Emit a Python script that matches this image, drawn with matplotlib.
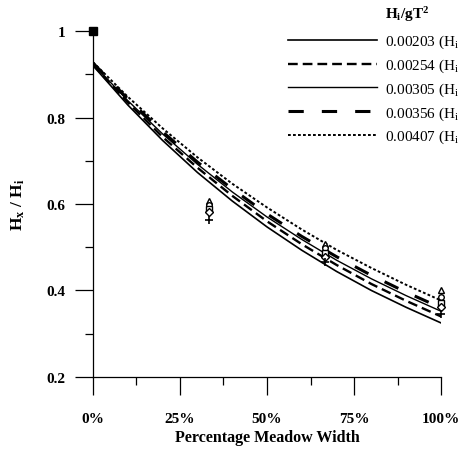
import matplotlib
matplotlib.use("Agg")
import matplotlib.pyplot as plt
from matplotlib.ticker import FixedLocator

plt.rcParams["font.family"] = ["Liberation Serif", "DejaVu Serif"]
plt.rcParams["mathtext.fontset"] = "custom"
plt.rcParams["mathtext.rm"] = "Liberation Serif"
plt.rcParams["mathtext.it"] = "Liberation Serif:italic"
plt.rcParams["mathtext.bf"] = "Liberation Serif:bold"
plt.rcParams["lines.scale_dashes"] = False

# Relative meadow position (fraction of meadow width)
width_frac = [0.0, 0.1, 0.2, 0.3, 0.4, 0.5, 0.6, 0.7, 0.8, 0.9, 1.0]

# Predicted wave-height decay for each incident steepness Hi/gT^2
steepness = ["0.00203", "0.00254", "0.00305", "0.00356", "0.00407"]
pred_00203 = [0.920, 0.829, 0.747, 0.673, 0.607, 0.547, 0.493, 0.444, 0.400, 0.361, 0.325]
pred_00254 = [0.922, 0.835, 0.755, 0.684, 0.619, 0.560, 0.507, 0.459, 0.415, 0.376, 0.340]
pred_00305 = [0.924, 0.839, 0.762, 0.692, 0.628, 0.570, 0.518, 0.470, 0.427, 0.388, 0.352]
pred_00356 = [0.926, 0.843, 0.767, 0.697, 0.635, 0.577, 0.525, 0.478, 0.435, 0.396, 0.360]
pred_00407 = [0.928, 0.848, 0.775, 0.708, 0.647, 0.592, 0.541, 0.494, 0.452, 0.413, 0.377]

# Measured wave heights at the gauges
gauge_x = [1 / 3, 2 / 3, 1.0]
meas_triangle = [0.607, 0.508, 0.400]
meas_circle = [0.598, 0.498, 0.385]
meas_square = [0.589, 0.487, 0.372]
meas_diamond = [0.581, 0.477, 0.361]
meas_plus = [0.563, 0.466, 0.345]
incident_x = [0.0]
incident_h = [1.0]

x_ticks = [0.0, 0.25, 0.5, 0.75, 1.0]
x_tick_labels = ["0%", "25%", "50%", "75%", "100%"]
y_ticks = [0.2, 0.4, 0.6, 0.8, 1.0]
y_tick_labels = ["0.2", "0.4", "0.6", "0.8", "1"]

fig = plt.figure(figsize=(4.59, 4.56), dpi=100)
ax = fig.add_axes([0.2026, 0.1711, 0.7582, 0.7587])

styles = [
    dict(color="black", lw=1.2, ls="-"),
    dict(color="black", lw=1.7, ls=(0, (7, 3.6))),
    dict(color="black", lw=1.0, ls="-"),
    dict(color="black", lw=2.2, ls=(0, (11, 13))),
    dict(color="black", lw=1.4, ls=(0, (2, 1.6))),
]
series = [pred_00203, pred_00254, pred_00305, pred_00356, pred_00407]
for s, vals, st in zip(steepness, series, styles):
    ax.plot(width_frac, vals, label=s + " (H$_\\mathregular{i}$", **st)

mk = dict(color="black", ls="none", clip_on=False, zorder=5)
ax.plot(gauge_x, meas_triangle, marker="^", ms=4.5, mfc="white", mew=1.0, **mk)
ax.plot(gauge_x, meas_circle, marker="o", ms=4.0, mfc="white", mew=1.0, **mk)
ax.plot(gauge_x, meas_square, marker="s", ms=3.8, mfc="white", mew=1.0, **mk)
ax.plot(gauge_x, meas_diamond, marker="D", ms=3.6, mfc="white", mew=1.0, **mk)
ax.plot(gauge_x, meas_plus, marker="+", ms=6, mew=1.2, **mk)
ax.plot(incident_x, incident_h, marker="s", ms=5.5, mfc="black", **mk)

ax.set_xlim(0, 1)
ax.set_ylim(0.2, 1.0)
for side in ("top", "right"):
    ax.spines[side].set_visible(False)
for side in ("left", "bottom"):
    ax.spines[side].set_linewidth(0.9)

ax.xaxis.set_major_locator(FixedLocator(x_ticks))
ax.xaxis.set_minor_locator(FixedLocator([0.125, 0.375, 0.625, 0.875]))
ax.set_xticklabels(x_tick_labels)
ax.yaxis.set_major_locator(FixedLocator(y_ticks))
ax.yaxis.set_minor_locator(FixedLocator([0.3, 0.5, 0.7, 0.9]))
ax.set_yticklabels(y_tick_labels)

ax.tick_params(axis="x", which="major", direction="out", length=13, width=0.9, pad=12)
ax.tick_params(axis="x", which="minor", direction="out", length=6, width=0.9)
ax.tick_params(axis="y", which="major", direction="out", length=13, width=0.9, pad=7)
ax.tick_params(axis="y", which="minor", direction="out", length=6, width=0.9)
for lab in ax.get_xticklabels() + ax.get_yticklabels():
    lab.set_fontsize(11)
    lab.set_fontweight("bold")

ax.set_xlabel("Percentage Meadow Width", fontsize=11.5, fontweight="bold", labelpad=3)
ax.set_ylabel(r"H$_\mathbf{x}$ / H$_\mathbf{i}$", fontsize=12.5, fontweight="bold", labelpad=14)

leg = ax.legend(loc="upper left", bbox_to_anchor=(288 / 459, 1 - 34 / 456),
                bbox_transform=fig.transFigure, frameon=False, fontsize=11,
                handlelength=5.8, handletextpad=0.55, labelspacing=0.42,
                borderpad=0, borderaxespad=0)
fig.text(385 / 459, 1 - 15 / 456, r"H$_\mathbf{i}$/gT$^\mathbf{2}$", fontsize=11,
         fontweight="bold", ha="left", va="center")

fig.savefig("out.png", dpi=100)
